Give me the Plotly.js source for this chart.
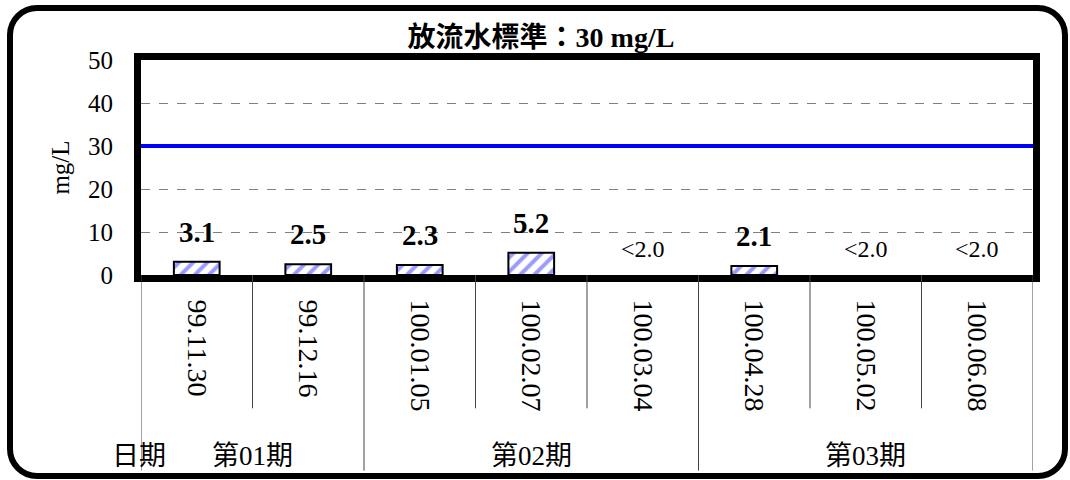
<!DOCTYPE html>
<html>
<head>
<meta charset="utf-8">
<script src="https://cdn.plot.ly/plotly-3.0.1.min.js"></script>
<style>
  html, body { margin: 0; padding: 0; background: #fff; }
  #wrap { position: relative; width: 1070px; height: 480px; overflow: hidden; }
  #chart { position: absolute; left: 0; top: 0; width: 1070px; height: 480px; }
  #frame {
    position: absolute; left: 7px; top: 5px; width: 1049px; height: 462px;
    border: 6px solid #000; border-radius: 30px; pointer-events: none;
  }
</style>
</head>
<body>
<div id="wrap">
  <div id="chart"></div>
  <div id="frame"></div>
</div>
<script>
// Sampling dates (ROC calendar) and measured values, mg/L
const dates = ['99.11.30', '99.12.16', '100.01.05', '100.02.07', '100.03.04', '100.04.28', '100.05.02', '100.06.08'];
const values = [3.1, 2.5, 2.3, 5.2, null, 2.1, null, null];
const valueLabels = ['3.1', '2.5', '2.3', '5.2', '<2.0', '2.1', '<2.0', '<2.0'];

// Monitoring periods and how many sampling dates each covers
const periods = ['第01期', '第02期', '第03期'];
const periodSizes = [2, 3, 3];

// Effluent standard
const standardValue = 30;
const titleText = '放流水標準：30 mg/L';
const yTicks = [0, 10, 20, 30, 40, 50];

const serif = '"Liberation Serif", "Times New Roman", "Noto Sans CJK TC", serif';
const xIdx = dates.map((d, i) => i);

const bars = {
  type: 'bar',
  x: xIdx,
  y: values,
  width: 0.41,
  marker: {
    color: '#ffffff',
    line: { color: '#000000', width: 2 },
    pattern: { shape: '/', fgcolor: '#9a9aff', bgcolor: '#ffffff', size: 10, solidity: 0.4, fillmode: 'replace' }
  },
  hoverinfo: 'skip',
  showlegend: false
};

// Value labels above each bar
const annotations = valueLabels.map((t, i) => {
  const measured = values[i] !== null;
  return {
    x: i, y: measured ? values[i] : 0, xref: 'x', yref: 'y',
    text: measured ? '<b>' + t + '</b>' : t,
    showarrow: false, yanchor: 'middle', yshift: measured ? 30 : 26,
    font: { family: serif, size: measured ? 29 : 24, color: '#000' }
  };
});

// Period boundaries and group separators below the axis
const shapes = [];
let start = 0;
const boundaries = [-0.5];
periods.forEach((p, k) => {
  const end = start + periodSizes[k];
  annotations.push({
    x: (start + end - 1) / 2, y: -0.84, xref: 'x', yref: 'paper',
    text: p, showarrow: false, yanchor: 'middle',
    font: { family: serif, size: 27, color: '#000' }
  });
  boundaries.push(end - 0.5);
  start = end;
});
for (let i = 0; i < dates.length + 1; i++) {
  const b = i - 0.5;
  const isGroup = boundaries.includes(b);
  shapes.push({
    type: 'line', xref: 'x', yref: 'paper',
    x0: b, x1: b, y0: 0, y1: isGroup ? -0.91 : -0.62,
    line: { color: '#444444', width: 1 }
  });
}
annotations.push({
  x: 0, y: -0.84, xref: 'paper', yref: 'paper', xanchor: 'center',
  text: '日期', showarrow: false, yanchor: 'middle', xshift: -2,
  font: { family: serif, size: 27, color: '#000' }
});

// Standard limit line across the plot
shapes.push({
  type: 'line', xref: 'paper', yref: 'y',
  x0: 0, x1: 1, y0: standardValue, y1: standardValue,
  line: { color: '#0000ff', width: 4 }
});

const layout = {
  width: 1070, height: 480,
  margin: { l: 141, r: 37, t: 60, b: 205 },
  paper_bgcolor: '#ffffff', plot_bgcolor: '#ffffff',
  title: {
    text: '<b>' + titleText + '</b>',
    xref: 'container', x: 541 / 1070, xanchor: 'center',
    yref: 'container', y: 1 - 37 / 480, yanchor: 'middle',
    font: { family: serif, size: 28, color: '#000' }
  },
  xaxis: {
    type: 'linear', range: [-0.5, dates.length - 0.5],
    tickmode: 'array', tickvals: xIdx, ticktext: dates,
    tickangle: 90, ticks: '', showgrid: false, zeroline: false,
    showline: true, linecolor: '#000', linewidth: 7, mirror: true,
    tickfont: { family: serif, size: 28, color: '#000' },
    ticklabelstandoff: 12, fixedrange: true
  },
  yaxis: {
    range: [0, 50], tickmode: 'array', tickvals: yTicks,
    ticks: '', showgrid: true, gridcolor: '#808080', gridwidth: 1, griddash: 'dash',
    zeroline: false, showline: true, linecolor: '#000', linewidth: 7, mirror: true,
    tickfont: { family: serif, size: 25, color: '#000' },
    ticklabelstandoff: 16,
    title: { text: 'mg/L', standoff: 14, font: { family: serif, size: 25, color: '#000' } },
    fixedrange: true
  },
  bargap: 0,
  annotations: annotations,
  shapes: shapes,
  showlegend: false
};

Plotly.newPlot('chart', [bars], layout, { staticPlot: true, displayModeBar: false });
</script>
</body>
</html>
